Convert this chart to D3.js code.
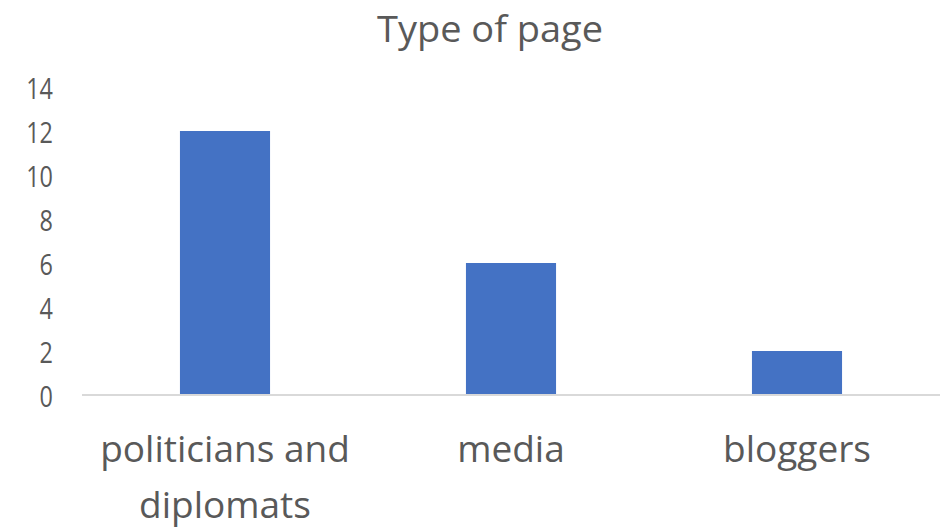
<!DOCTYPE html>
<html>
<head>
<meta charset="utf-8">
<script src="https://cdn.jsdelivr.net/npm/d3@7"></script>
<style>
  html, body { margin: 0; padding: 0; background: #ffffff; }
  svg { display: block; }
  text { font-family: "Open Sans", "Noto Sans", sans-serif; fill: #595959; }
</style>
</head>
<body>
<svg id="chart" width="948" height="532"></svg>
<script>
// ---- data ----
const categories = [["politicians and", "diplomats"], ["media"], ["bloggers"]];
const values = [12, 6, 2];
const yTicks = [0, 2, 4, 6, 8, 10, 12, 14];
const title = "Type of page";

const W = 948, H = 532;
const svg = d3.select("#chart");

const x = d3.scaleBand()
  .domain(d3.range(categories.length))
  .range([82, 940])
  .paddingInner(0.685)
  .paddingOuter(0.3425);

const y = d3.scaleLinear().domain([0, 14]).range([395, 87]);

// title
svg.append("text")
  .attr("x", 490).attr("y", 42)
  .attr("text-anchor", "middle")
  .style("font-size", "36px")
  .attr("textLength", 226)
  .attr("lengthAdjust", "spacingAndGlyphs")
  .text(title);

// y tick labels (condensed font look)
const yAxis = d3.axisLeft(y).tickValues(yTicks).tickSize(0).tickPadding(0);
const yg = svg.append("g").attr("transform", "translate(53,0)").call(yAxis);
yg.select(".domain").remove();
yg.selectAll(".tick text")
  .attr("x", 0).attr("dy", null)
  .attr("dominant-baseline", "central")
  .attr("text-anchor", "end")
  .attr("transform", "scale(0.78,1)")
  .style("font-size", "30px")
  .style("font-family", "'Open Sans', sans-serif")
  .style("fill", "#595959");

// bars
svg.append("g").selectAll("rect")
  .data(values)
  .join("rect")
  .attr("x", (d, i) => x(i))
  .attr("y", d => y(d))
  .attr("width", x.bandwidth())
  .attr("height", d => y(0) - y(d))
  .attr("fill", "#4472C4");

// x axis line
svg.append("line")
  .attr("x1", 82).attr("x2", 940)
  .attr("y1", y(0)).attr("y2", y(0))
  .attr("stroke", "#d9d9d9").attr("stroke-width", 2);

// category labels
const lab = svg.append("g").selectAll("text")
  .data(categories)
  .join("text")
  .attr("text-anchor", "middle")
  .style("font-size", "37px");
lab.each(function (lines, i) {
  const t = d3.select(this);
  const cx = x(i) + x.bandwidth() / 2;
  lines.forEach((ln, j) => {
    t.append("tspan")
      .attr("x", cx)
      .attr("y", 462 + j * 56)
      .text(ln);
  });
});
</script>
</body>
</html>
